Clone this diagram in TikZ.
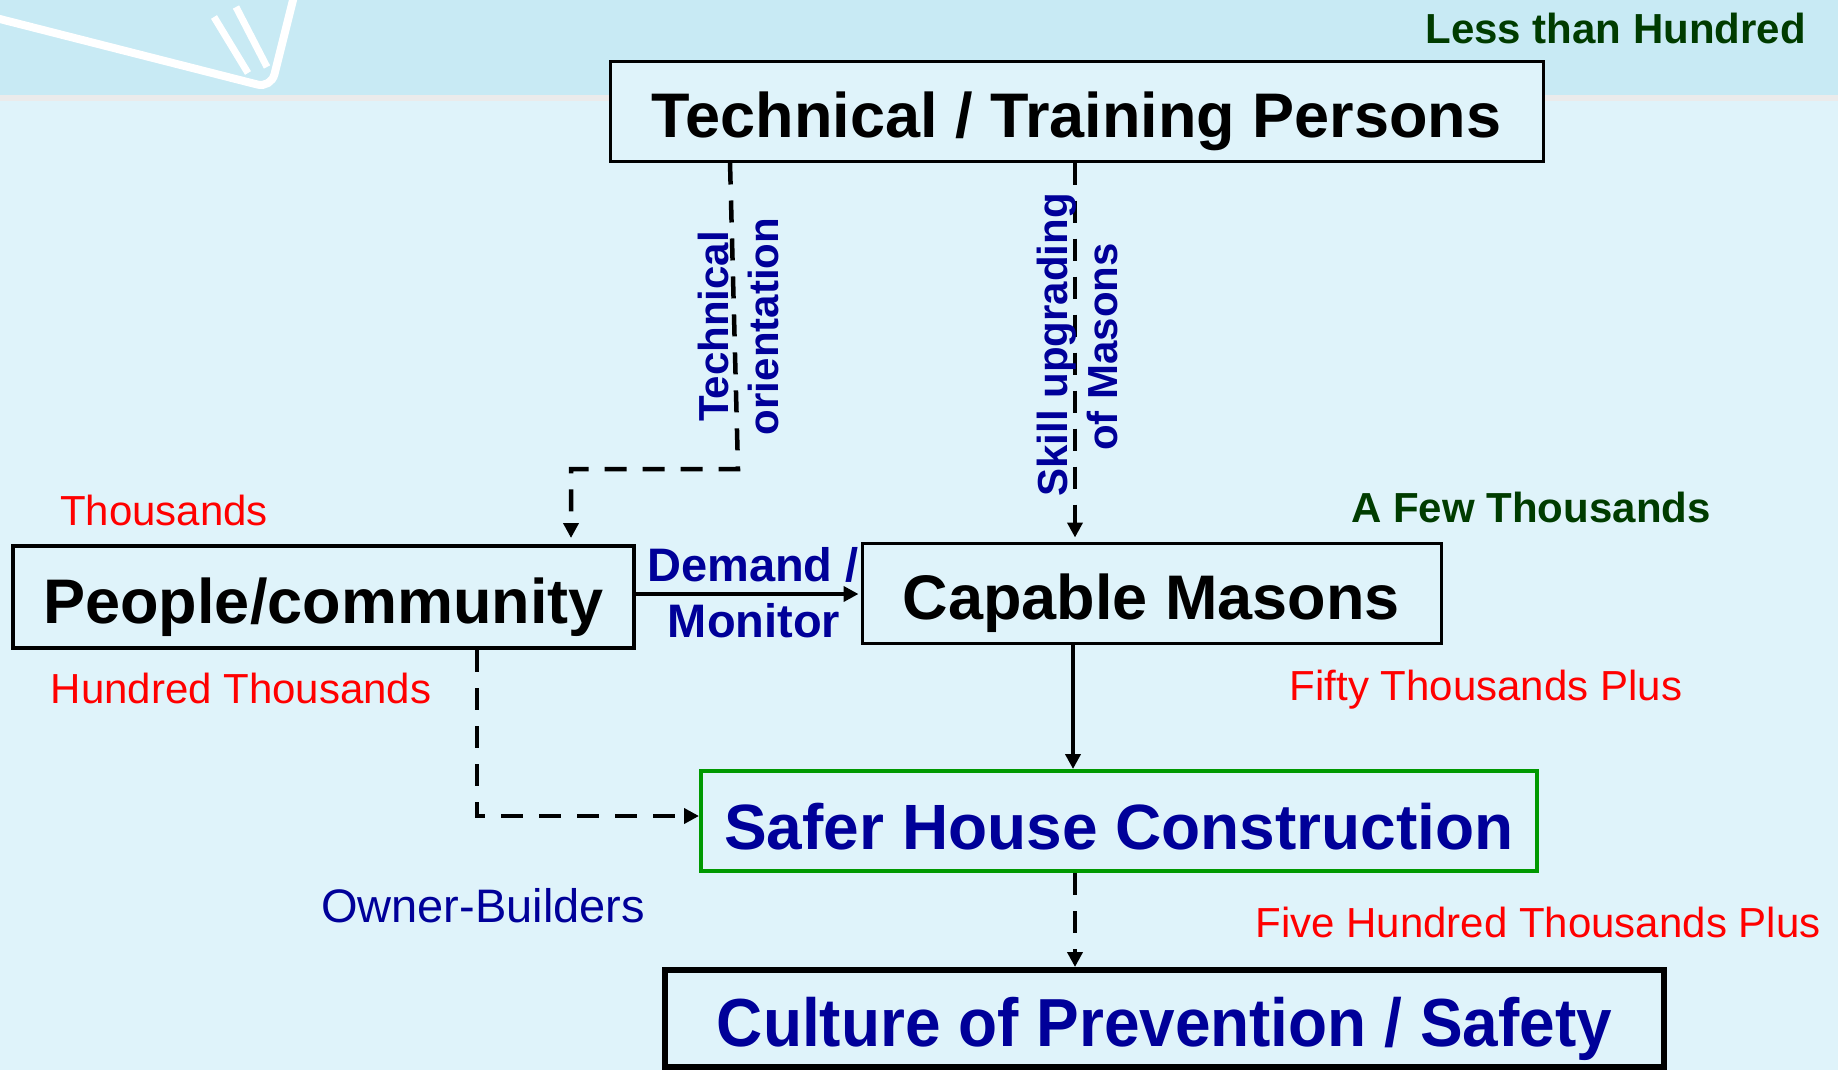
\documentclass[tikz,border=0pt]{standalone}
\usepackage{fontspec}
\usepackage{graphicx}
\setmainfont{Liberation Sans}
\usetikzlibrary{arrows.meta}
\definecolor{bgc}{RGB}{223,243,250}
\definecolor{bandc}{RGB}{200,234,244}
\definecolor{stripc}{RGB}{235,235,235}
\definecolor{dblue}{RGB}{0,0,153}
\definecolor{dgreen}{RGB}{0,60,0}
\definecolor{bgreen}{RGB}{0,153,0}
\definecolor{lred}{RGB}{255,0,0}
\begin{document}
\begin{tikzpicture}[x=1pt,y=-1pt,
  box/.style={draw=black, fill=bgc, inner sep=0pt, text height=57pt, text depth=4pt, font=\bfseries\fontsize{63}{70}\selectfont},
  tipend/.style={-{Triangle[length=15pt,width=15pt]}},
  dashline/.style={line width=4.5pt, dash pattern=on 22pt off 16pt, tipend},
  solidline/.style={line width=4pt, tipend},
  lbl/.style={anchor=base, inner sep=0pt, font=\fontsize{42}{48}\selectfont},
  blbl/.style={anchor=base, inner sep=0pt, font=\bfseries\fontsize{42}{48}\selectfont},
  rlbl/.style={rotate=90, anchor=base, inner sep=0pt, text=dblue, font=\bfseries\fontsize{42}{48}\selectfont},
  deco/.style={white, line width=8pt}
]
\path[use as bounding box] (0,0) rectangle (1838,1070);
\clip (0,0) rectangle (1838,1070);
% background
\fill[bgc] (0,0) rectangle (1838,1070);
\fill[bandc] (0,0) rectangle (1838,95);
\fill[stripc] (0,95) rectangle (1838,101);
% decoration
\draw[deco, rounded corners=14pt] (-10,16.5) -- (271,88) -- (296,-12);
\draw[deco, line width=7pt] (214,17) -- (248,73);
\draw[deco, line width=7pt] (236,7) -- (267,67);

% boxes
\node[box, line width=3pt, minimum width=933pt, minimum height=99pt] (ttp) at (1076.5,111.5) {Technical / Training Persons};
\node[box, line width=4pt, minimum width=621pt, minimum height=102pt] (people) at (323.5,597) {People/community};
\node[box, line width=3pt, minimum width=579pt, minimum height=100pt] (masons) at (1151.5,593) {Capable Masons};
\node[box, draw=bgreen, line width=4pt, text=dblue, minimum width=836pt, minimum height=100pt, text height=60pt, text depth=4pt, font=\bfseries\fontsize{64}{70}\selectfont] (safer) at (1119,821) {Safer House Construction};
\node[box, line width=6pt, text=dblue, minimum width=999pt, minimum height=97pt, text height=60pt, text depth=4pt, font=\bfseries\fontsize{68}{74}\selectfont] (culture) at (1164.5,1018.5) {\scalebox{0.94}[1]{Culture of Prevention / Safety}};

% column coordinates
\coordinate (c1) at (730,0);
\coordinate (c2) at (571,0);
\coordinate (c3) at (1075,0);
\coordinate (c4) at (477,0);
\coordinate (c5) at (1073,0);
\coordinate (bend1) at (738,469);
\coordinate (bend2) at (477,816);

% connectors
\draw[dashline, shorten >=6pt] (ttp.south -| c1) -- (bend1) -| (people.north -| c2);
\draw[dashline, shorten >=4pt] (ttp.south -| c3) -- (masons.north -| c3);
\draw[solidline, shorten >=2pt] (people.east |- 0,594) -- (masons.west |- 0,594);
\draw[dashline] (people.south -| c4) |- (safer.west |- bend2);
\draw[solidline] (masons.south -| c5) -- (safer.north -| c5);
\draw[dashline] (safer.south -| c3) -- (culture.north -| c3);

% rotated labels
\node[rlbl] (tech1) at (728,326.5) {Technical};
\node[rlbl] (tech2) at (778,326.5) {orientation};
\node[rlbl] (skill1) at (1067,345) {Skill upgrading};
\node[rlbl] (skill2) at (1117,347) {of Masons};

% arrow label
\node[anchor=base, inner sep=0pt, text=dblue, font=\bfseries\fontsize{47}{52}\selectfont] (dem1) at (753,581) {Demand /};
\node[anchor=base, inner sep=0pt, text=dblue, font=\bfseries\fontsize{47}{52}\selectfont] (dem2) at (754,637) {Monitor};

% quantity labels
\node[blbl, anchor=base east, text=dgreen] (less) at (1806,44) {Less than Hundred};
\node[lbl, text=lred] (thou) at (164,525) {Thousands};
\node[lbl, text=lred] (hthou) at (241,703) {Hundred Thousands};
\node[blbl, text=dgreen] (few) at (1531,522) {A Few Thousands};
\node[lbl, text=lred] (fifty) at (1486,700) {Fifty Thousands Plus};
\node[lbl, text=lred] (five) at (1538,937) {Five Hundred Thousands Plus};
\node[lbl, text=dblue, font=\fontsize{47}{52}\selectfont] (owner) at (483,922) {Owner-Builders};
\end{tikzpicture}
\end{document}
